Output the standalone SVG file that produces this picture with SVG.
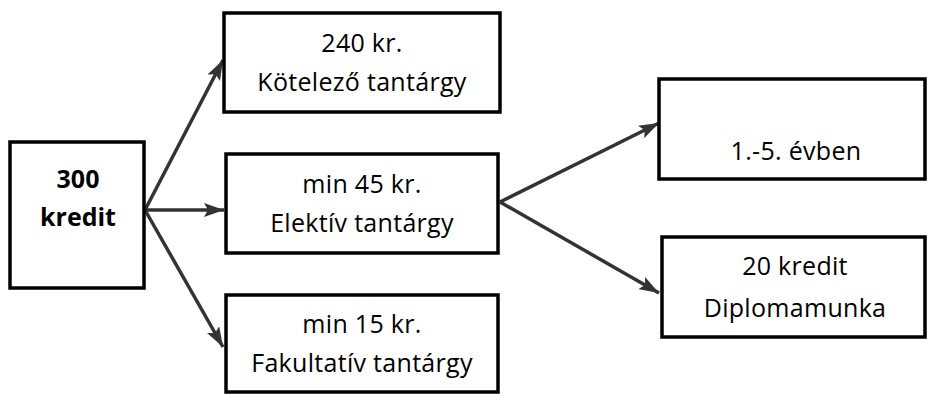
<svg xmlns="http://www.w3.org/2000/svg" width="928" height="394" viewBox="0 0 928 394">
<style>
.box{fill:#fff;stroke:#000;stroke-width:3.5}
.t{font-family:"Open Sans","Noto Sans",sans-serif;font-size:25px;fill:#000;text-anchor:middle;letter-spacing:0.3px}
.b{font-weight:bold;letter-spacing:0}
.c{stroke:#333;stroke-width:3.5;fill:none}
</style>
<defs>
<marker id="a" viewBox="0 0 20 14" refX="20" refY="7" markerWidth="20" markerHeight="14" markerUnits="userSpaceOnUse" orient="auto">
<path d="M0,0 L20,7 L0,14 L4,7 z" fill="#333"/>
</marker>
</defs>
<g id="connectors">
<line class="c" x1="145" y1="210" x2="223" y2="60" marker-end="url(#a)"/>
<line class="c" x1="145" y1="210" x2="224" y2="210" marker-end="url(#a)"/>
<line class="c" x1="145" y1="210" x2="223" y2="347" marker-end="url(#a)"/>
<line class="c" x1="500" y1="202" x2="659" y2="123" marker-end="url(#a)"/>
<line class="c" x1="500" y1="202" x2="659" y2="293" marker-end="url(#a)"/>
</g>
<g id="n300">
<rect class="box" x="10" y="142" width="134" height="146"/>
<text class="t b" x="78" y="188">300</text>
<text class="t b" x="78" y="226">kredit</text>
</g>
<g id="nkot">
<rect class="box" x="224" y="13" width="276" height="99"/>
<text class="t" x="362" y="52">240 kr.</text>
<text class="t" x="362" y="91">Kötelező tantárgy</text>
</g>
<g id="nelek">
<rect class="box" x="226" y="154" width="272" height="99"/>
<text class="t" x="362" y="193">min 45 kr.</text>
<text class="t" x="362" y="232">Elektív tantárgy</text>
</g>
<g id="nfak">
<rect class="box" x="226" y="295" width="272" height="97"/>
<text class="t" x="362" y="333">min 15 kr.</text>
<text class="t" x="362" y="372">Fakultatív tantárgy</text>
</g>
<g id="nev">
<rect class="box" x="659" y="79" width="266" height="100"/>
<text class="t" x="796" y="160">1.-5. évben</text>
</g>
<g id="ndip">
<rect class="box" x="662" y="237" width="263" height="100"/>
<text class="t" x="795" y="275">20 kredit</text>
<text class="t" x="795" y="317">Diplomamunka</text>
</g>
</svg>
